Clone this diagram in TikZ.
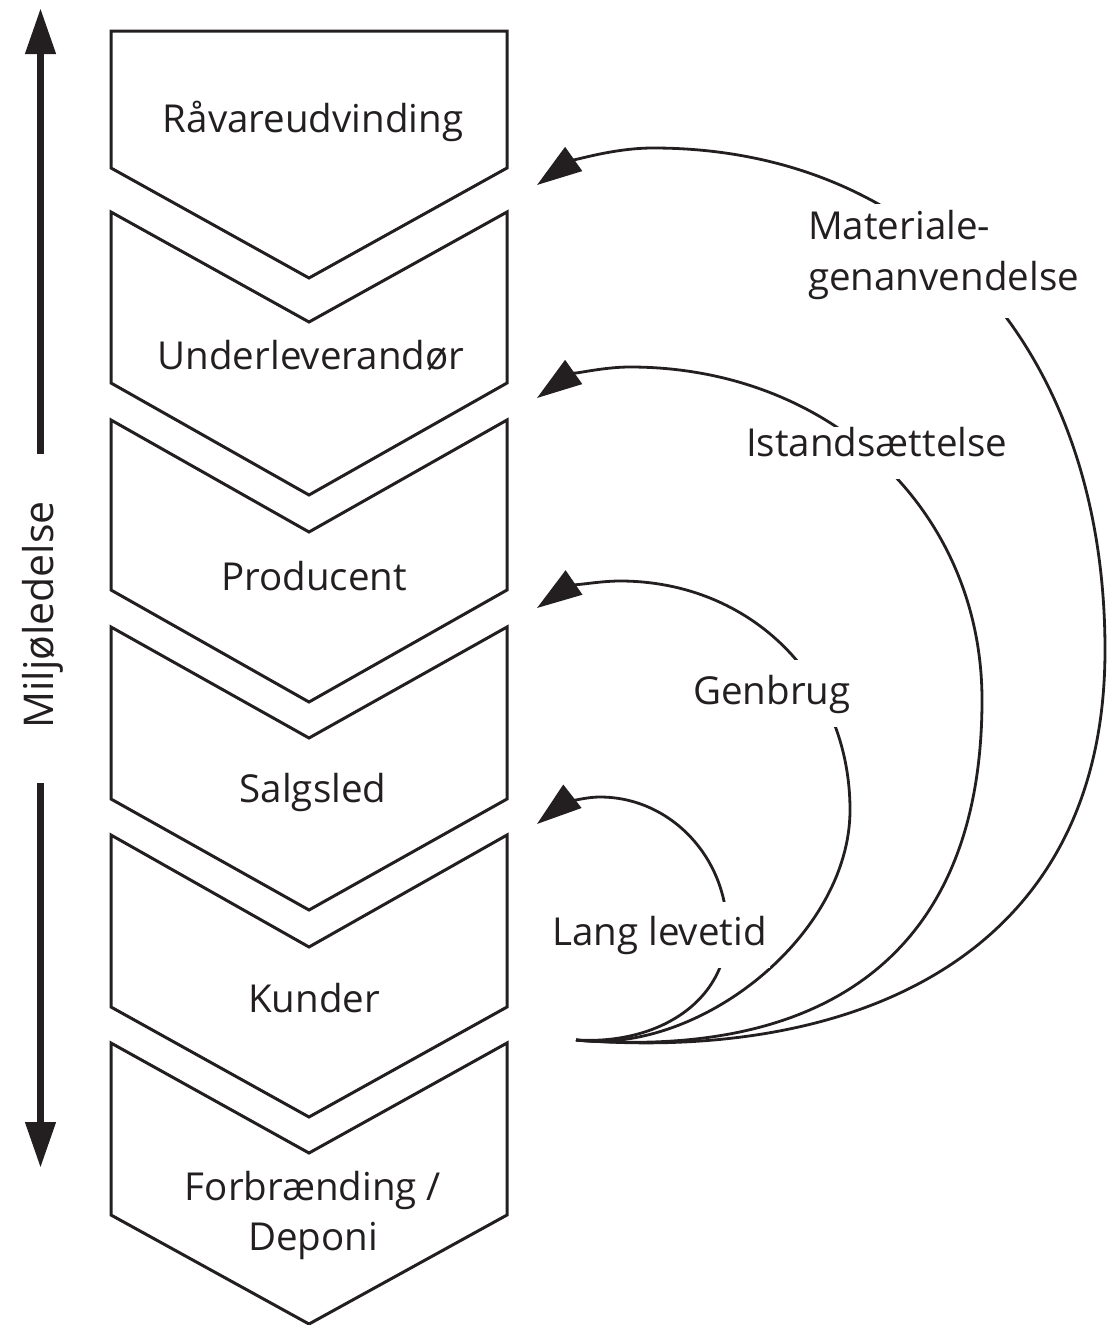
\documentclass[tikz,border=0pt]{standalone}
\usepackage{fontspec}
\setmainfont{Open Sans}
\usetikzlibrary{arrows.meta}
\definecolor{ink}{RGB}{35,31,32}
\begin{document}
\begin{tikzpicture}[x=1pt,y=-1pt,
  chev/.style={draw=ink, line width=3pt, line join=miter},
  boxlabel/.style={font=\fontsize{38.5}{50}\selectfont, text=ink, anchor=base, inner sep=0pt},
  looplabel/.style={font=\fontsize{38.5}{51}\selectfont, text=ink, fill=white, inner xsep=3pt, inner ysep=0pt, anchor=base west},
  loopline/.style={draw=ink, line width=2.8pt, -{Triangle[length=45pt,width=29pt]}},
  bigarrow/.style={draw=ink, line width=7.5pt, -{Triangle[length=46pt,width=29pt]}}]
\useasboundingbox (0,0) rectangle (1106,1325);

% chevrons
\draw[chev] (111,31) -- (507,31) -- (507,168) -- (309,278) -- (111,168) -- cycle;
\draw[chev] (111,212) -- (309,322) -- (507,212) -- (507,383) -- (309,495) -- (111,383) -- cycle;
\draw[chev] (111,420) -- (309,532) -- (507,420) -- (507,590) -- (309,702) -- (111,590) -- cycle;
\draw[chev] (111,627) -- (309,738) -- (507,627) -- (507,799) -- (309,910) -- (111,799) -- cycle;
\draw[chev] (111,835) -- (309,947) -- (507,835) -- (507,1007) -- (309,1117) -- (111,1007) -- cycle;
\draw[chev] (111,1043) -- (309,1153) -- (507,1043) -- (507,1215) -- (309,1324) -- (111,1215) -- cycle;

% box labels
\node[boxlabel] (raa) at (313,132) {Råvareudvinding};
\node[boxlabel] (under) at (311,369) {Underleverandør};
\node[boxlabel] (prod) at (314,590) {Producent};
\node[boxlabel] (salg) at (313,802) {Salgsled};
\node[boxlabel] (kund) at (314,1012) {Kunder};
\node[boxlabel, anchor=center, align=center] (forb) at (313,1215) {Forbrænding /\\Deponi};

% left axis
\coordinate (upstart) at (40.5,454);
\coordinate (uptip) at (40.5,8);
\coordinate (dnstart) at (40.5,783);
\coordinate (dntip) at (40.5,1168);
\draw[bigarrow] (upstart) -- (uptip);
\draw[bigarrow] (dnstart) -- (dntip);
\node[font=\fontsize{41}{50}\selectfont, text=ink, rotate=90, anchor=base, inner sep=0pt] (milj) at (53,615) {Miljøledelse};

% loops
\coordinate (S) at (576,1040);
\coordinate (tipM) at (537,185);
\coordinate (tipI) at (537,398);
\coordinate (tipG) at (537,608);
\coordinate (tipL) at (537,824);

\draw[loopline] (S) .. controls (850,1062) and (1105,960) .. (1105,650)
  .. controls (1105,349) and (924,148) .. (653,148)
  .. controls (610,148) and (568,163) .. (tipM);
\draw[loopline] (S) .. controls (830,1060) and (982,950) .. (982,700)
  .. controls (982,510) and (830,367) .. (630,367)
  .. controls (600,367) and (568,376) .. (tipI);
\draw[loopline] (S) .. controls (700,1055) and (850,935) .. (850,810)
  .. controls (850,680) and (751,581) .. (620,581)
  .. controls (595,581) and (566,588) .. (tipG);
\draw[loopline] (S) .. controls (660,1045) and (727,1000) .. (727,930)
  .. controls (727,857) and (670,797) .. (600,797)
  .. controls (580,797) and (560,806) .. (tipL);

% loop labels
\node[looplabel, anchor=north west, align=left] (matlab) at (805,204)
  {\rule{0pt}{35pt}Materiale-\\genanvendelse\rule[-28pt]{0pt}{28pt}};
\node[looplabel] (istlab) at (743,456) {Istandsættelse\rule[-23pt]{0pt}{47pt}};
\node[looplabel] (genlab) at (690,704) {Genbrug\rule[-23pt]{0pt}{67pt}};
\node[looplabel] (langlab) at (549,945) {Lang levetid\rule[-23pt]{0pt}{66pt}};
\end{tikzpicture}
\end{document}
